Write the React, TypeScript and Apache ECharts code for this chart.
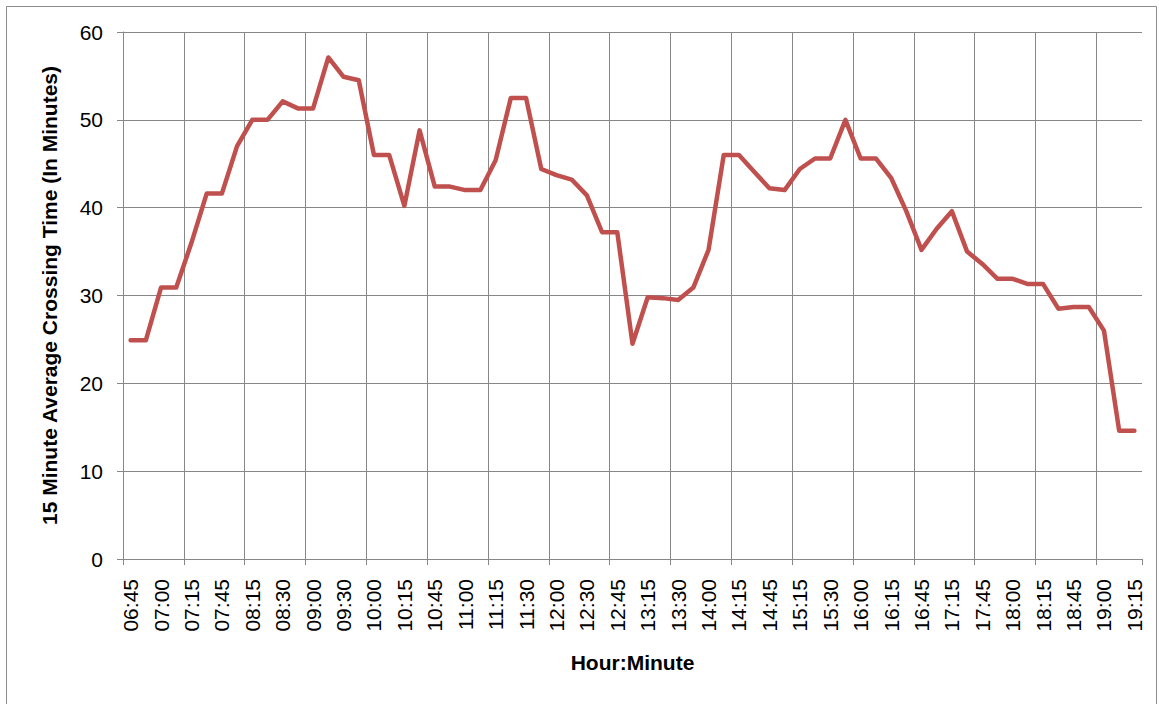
import React, { useEffect, useRef } from "react";
import * as echarts from "echarts";

const categories: string[] = [
  "06:45", "06:52", "07:00", "07:07", "07:15", "07:30", "07:45", "08:00", "08:15", "08:22",
  "08:30", "08:45", "09:00", "09:15", "09:30", "09:45", "10:00", "10:07", "10:15", "10:30",
  "10:45", "10:52", "11:00", "11:07", "11:15", "11:22", "11:30", "11:45", "12:00", "12:15",
  "12:30", "12:37", "12:45", "13:00", "13:15", "13:22", "13:30", "13:45", "14:00", "14:07",
  "14:15", "14:30", "14:45", "15:00", "15:15", "15:22", "15:30", "15:45", "16:00", "16:07",
  "16:15", "16:30", "16:45", "17:00", "17:15", "17:30", "17:45", "17:52", "18:00", "18:07",
  "18:15", "18:30", "18:45", "18:52", "19:00", "19:07", "19:15",
];

const crossingTime: number[] = [
  24.9, 24.9, 30.9, 30.9, 36.0, 41.6, 41.6, 47.0, 50.0, 50.0,
  52.1, 51.3, 51.3, 57.1, 54.9, 54.5, 46.0, 46.0, 40.2, 48.8,
  42.4, 42.4, 42.0, 42.0, 45.4, 52.5, 52.5, 44.4, 43.7, 43.2,
  41.4, 37.2, 37.2, 24.5, 29.8, 29.7, 29.5, 30.9, 35.2, 46.0,
  46.0, 44.1, 42.2, 42.0, 44.4, 45.6, 45.6, 50.0, 45.6, 45.6,
  43.4, 39.6, 35.2, 37.6, 39.6, 35.0, 33.6, 31.9, 31.9, 31.3,
  31.3, 28.5, 28.7, 28.7, 26.0, 14.6, 14.6,
];

const yTicks = { min: 0, max: 60, interval: 10 };

const GRID = "#878787";
const FONT = "Liberation Sans, Arial, sans-serif";

export default function App() {
  const ref = useRef<HTMLDivElement>(null);

  useEffect(() => {
    document.body.style.margin = "0";
    if (!ref.current) return;
    const chart = echarts.init(ref.current, undefined, { renderer: "svg" });
    chart.setOption({
      animation: false,
      backgroundColor: "#ffffff",
      graphic: [
        {
          type: "rect",
          shape: { x: 6.5, y: 6.5, width: 1150, height: 720 },
          style: { fill: "none", stroke: "#8c8c8c", lineWidth: 1 },
          silent: true,
        },
      ],
      grid: {
        left: 123,
        right: 17,
        top: 32,
        bottom: 145,
        containLabel: false,
        outerBoundsMode: "none",
      },
      xAxis: {
        type: "category",
        data: categories,
        boundaryGap: true,
        name: "Hour:Minute",
        nameLocation: "middle",
        nameGap: 93,
        nameTextStyle: {
          fontFamily: FONT,
          fontWeight: "bold",
          fontSize: 21,
          color: "#000",
        },
        axisLine: { show: true, lineStyle: { color: GRID, width: 1 } },
        axisTick: {
          show: true,
          interval: 3,
          length: 6,
          lineStyle: { color: GRID, width: 1 },
        },
        axisLabel: {
          interval: 1,
          rotate: 90,
          margin: 20,
          fontFamily: FONT,
          fontSize: 21,
          color: "#000",
        },
        splitLine: {
          show: true,
          interval: 3,
          showMaxLine: false,
          lineStyle: { color: GRID, width: 1 },
        },
      },
      yAxis: {
        type: "value",
        min: yTicks.min,
        max: yTicks.max,
        interval: yTicks.interval,
        name: "15 Minute Average Crossing Time (In Minutes)",
        nameLocation: "middle",
        nameGap: 63,
        nameRotate: 90,
        nameTextStyle: {
          fontFamily: FONT,
          fontWeight: "bold",
          fontSize: 21,
          color: "#000",
        },
        axisLine: { show: true, lineStyle: { color: GRID, width: 1 } },
        axisTick: { show: true, length: 6, lineStyle: { color: GRID, width: 1 } },
        axisLabel: {
          margin: 20,
          fontFamily: FONT,
          fontSize: 21,
          color: "#000",
        },
        splitLine: { show: true, lineStyle: { color: GRID, width: 1 } },
      },
      series: [
        {
          type: "line",
          data: crossingTime,
          symbol: "none",
          smooth: false,
          lineStyle: { color: "#C0504D", width: 4.5, join: "round", cap: "round" },
          itemStyle: { color: "#C0504D" },
        },
      ],
    });
    return () => chart.dispose();
  }, []);

  return <div ref={ref} style={{ width: 1159, height: 704 }} />;
}
